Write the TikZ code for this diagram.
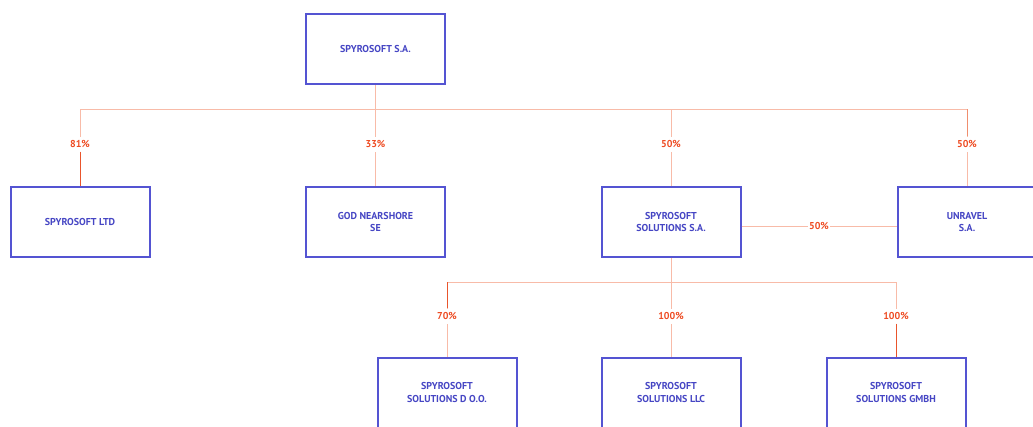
\documentclass[tikz,border=0pt]{standalone}
\usepackage{fontspec}
\setmainfont{PT Sans}
\usetikzlibrary{calc}
\definecolor{boxblue}{HTML}{5454D2}
\definecolor{txtblue}{HTML}{4646C4}
\definecolor{litecol}{HTML}{F8BBA8}
\definecolor{darkcol}{HTML}{E9552C}
\definecolor{medcol}{HTML}{F08E6E}
\definecolor{lblcol}{HTML}{EE4B22}
\tikzset{
  company/.style={draw=boxblue, line width=2pt, fill=white, minimum width=139pt, minimum height=70pt,
     align=center, text=txtblue, font=\fontsize{10}{12.5}\selectfont\bfseries, inner sep=0pt},
  lite/.style={draw=litecol, line width=1pt},
  darkseg/.style={draw=darkcol, line width=1pt},
  medseg/.style={draw=medcol, line width=1pt},
  pct/.style={fill=white, text=lblcol, font=\fontsize{10}{11}\selectfont\bfseries, inner sep=1.5pt, minimum height=15pt}
}
\begin{document}
\begin{tikzpicture}[x=1pt,y=-1pt]
\useasboundingbox (0,0) rectangle (1033,426);
\clip (0,0) rectangle (1033,426);
\coordinate (bus) at (0,109);
\coordinate (bus2) at (0,282);
\coordinate (lblrow) at (0,144);
\coordinate (lblrow2) at (0,316);

% connectors (drawn first, boxes on top)
\coordinate (ltdtop) at (80,186.5);
\coordinate (soltop) at (671,186.5);
\coordinate (unrtop) at (967,186.5);
\coordinate (godtop) at (375.5,186.5);
\coordinate (topbot) at (375.5,83.5);
\draw[lite] (topbot) -- (godtop);
\draw[lite] (ltdtop) -- (ltdtop |- bus) -- (unrtop |- bus) -- (unrtop);
\draw[lite] (soltop |- bus) -- (soltop);
\coordinate (solbot) at (671,257.5);
\coordinate (r3atop) at (447,357.5);
\coordinate (r3btop) at (671,357.5);
\coordinate (r3ctop) at (896,357.5);
\draw[lite] (solbot) -- (r3btop);
\draw[lite] (r3atop) -- (r3atop |- bus2) -- (r3ctop |- bus2) -- (r3ctop);

% boxes
\node[company] (top) at (375.5,48.5) {SPYROSOFT S.A.};
\node[company] (ltd) at (80,222) {SPYROSOFT LTD};
\node[company] (god) at (375.5,222) {GOD NEARSHORE\\SE};
\node[company] (sol) at (671,222) {SPYROSOFT\\SOLUTIONS S.A.};
\node[company] (unr) at (967,222) {UNRAVEL\\S.A.};
\node[company] (ra) at (447,392.5) {SPYROSOFT\\SOLUTIONS D O.O.};
\node[company] (rb) at (671,392.5) {SPYROSOFT\\SOLUTIONS LLC};
\node[company] (rc) at (896,392.5) {SPYROSOFT\\SOLUTIONS GMBH};

\draw[lite] ([yshift=-4pt]sol.east) -- ([yshift=-4pt]unr.west);

% labels
\node[pct] (l81) at (ltd.north |- lblrow) {81\%};
\node[pct] (l33) at (god.north |- lblrow) {33\%};
\node[pct] (l50a) at (sol.north |- lblrow) {50\%};
\node[pct] (l50b) at (unr.north |- lblrow) {50\%};
\node[pct] (l50c) at ($(sol.east)!0.5!(unr.west)+(0,4)$) {50\%};
\node[pct] (l70) at (ra.north |- lblrow2) {70\%};
\node[pct] (l100a) at (rb.north |- lblrow2) {100\%};
\node[pct] (l100b) at (rc.north |- lblrow2) {100\%};

% darker gradient parts
\draw[darkseg] (l81.south) -- (ltd.north);
\draw[medseg] (l50b.north) -- (l50b.north |- bus);
\draw[darkseg] (l70.north) -- (l70.north |- bus2);
\draw[darkseg] (l100b.south) -- (rc.north);
\end{tikzpicture}
\end{document}
